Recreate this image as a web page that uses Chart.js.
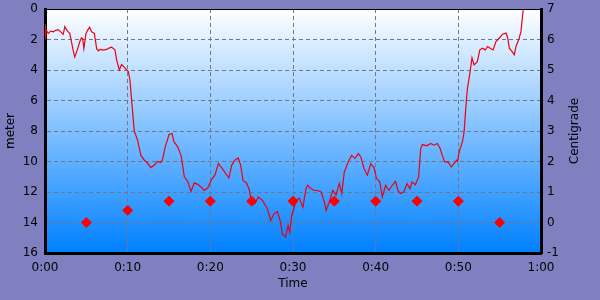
<!DOCTYPE html>
<html>
<head>
<meta charset="utf-8">
<script src="https://cdn.jsdelivr.net/npm/chart.js@4/dist/chart.umd.min.js"></script>
<style>
  html, body { margin: 0; padding: 0; background: #8080c0; }
  canvas { display: block; }
</style>
</head>
<body>
<canvas id="diveChart" width="600" height="300"></canvas>
<script>
// depth profile (minutes, meter)
const depthTime = [0, 0.05, 0.15, 0.4, 0.7, 1.0, 1.3, 1.6, 1.9, 2.2, 2.4, 2.6, 2.8, 3.0, 3.4, 3.6, 3.9, 4.2, 4.4, 4.56, 4.7, 4.96, 5.2, 5.4, 5.65, 5.97,
  6.25, 6.45, 6.65, 7.0, 7.46, 7.8, 8.07, 8.47, 8.67, 8.99, 9.27, 9.56, 9.88, 10.08, 10.28, 10.48, 10.8, 11.2, 11.6, 12.0, 12.4, 12.8, 13.2, 13.6,
  14.0, 14.2, 14.55, 14.8, 15.0, 15.36, 15.6, 16.05, 16.45, 16.65, 16.85, 17.26, 17.66, 18.06, 18.47, 18.87, 19.27, 19.68, 20.24, 20.56, 20.97,
  21.45, 21.86, 22.26, 22.58, 22.98, 23.38, 23.67, 23.95, 24.35, 24.68, 25.0, 25.4, 25.8, 26.3, 26.9, 27.3, 27.7, 28.1, 28.5, 28.7, 29.1, 29.4,
  29.6, 29.84, 30.1, 30.36, 30.76, 31.2, 31.57, 31.78, 32.2, 32.58, 32.98, 33.4, 33.8, 34.0, 34.4, 34.8, 35.2, 35.6, 35.9, 36.2, 36.7, 37.1,
  37.5, 37.9, 38.2, 38.6, 39.0, 39.4, 39.8, 40.1, 40.5, 40.8, 41.2, 41.6, 42.0, 42.4, 42.7, 43.0, 43.4, 43.8, 44.15, 44.4, 44.8, 45.2, 45.45,
  45.65, 46.2, 46.65, 47.05, 47.46, 47.8, 48.06, 48.35, 48.75, 49.15, 49.47, 49.8, 49.9, 50.1, 50.5, 50.7, 50.9, 51.1, 51.4, 51.65, 51.9,
  52.3, 52.6, 52.9, 53.26, 53.55, 53.95, 54.2, 54.55, 54.96, 55.36, 55.77, 55.97, 56.17, 56.5, 56.77, 56.97, 57.3, 57.58, 57.7, 57.86];
const depthValues = [1.0, 2.0, 1.4, 1.6, 1.45, 1.5, 1.4, 1.35, 1.5, 1.66, 1.16, 1.35, 1.5, 1.6, 2.7, 3.14, 2.7, 2.15, 1.9, 1.95, 2.6, 1.6, 1.35, 1.2, 1.5, 1.6,
  2.6, 2.75, 2.65, 2.7, 2.65, 2.55, 2.5, 2.7, 3.36, 4.0, 3.64, 3.8, 4.0, 4.1, 4.67, 6.0, 8.0, 8.6, 9.6, 9.9, 10.1, 10.4, 10.25, 10.0,
  10.07, 9.9, 9.04, 8.6, 8.23, 8.16, 8.7, 9.04, 9.6, 10.25, 11.0, 11.3, 11.96, 11.4, 11.5, 11.67, 11.9, 11.74, 11.1, 10.9, 10.14,
  10.47, 10.8, 11.08, 10.25, 9.9, 9.77, 10.25, 11.24, 11.39, 11.78, 12.66, 12.77, 12.33, 12.55, 13.1, 13.87, 13.43, 13.28, 13.98, 14.75, 14.96, 14.2,
  14.64, 13.54, 13.1, 12.55, 12.4, 13.0, 11.78, 11.56, 11.78, 11.9, 11.9, 12.0, 12.66, 13.2, 12.66, 11.9, 12.2, 11.45, 12.1, 10.7, 10.0, 9.6,
  9.8, 9.48, 9.7, 10.47, 10.9, 10.14, 10.4, 11.1, 11.35, 12.33, 11.56, 11.9, 11.56, 11.3, 11.9, 12.1, 12.0, 11.45, 11.78, 11.35, 11.52, 11.0, 9.15,
  8.89, 8.97, 8.82, 8.93, 8.82, 9.15, 9.6, 10.03, 10.03, 10.36, 10.14, 9.92, 9.99, 9.37, 8.7, 8.05, 6.5, 5.2, 4.2, 3.2, 3.67,
  3.45, 2.68, 2.57, 2.68, 2.46, 2.6, 2.68, 2.13, 1.9, 1.65, 1.58, 1.9, 2.57, 2.79, 3.0, 2.46, 2.02, 1.47, 0.8, 0.0];

// water temperature samples (minutes, centigrade)
const tempTime = [5, 10, 15, 20, 25, 30, 35, 40, 45, 50, 55];
const tempValues = [0, 0.4, 0.7, 0.7, 0.7, 0.7, 0.7, 0.7, 0.7, 0.7, 0];

const timeTicks = [0, 10, 20, 30, 40, 50, 60];

const FONT = 'DejaVu Sans, Verdana, sans-serif';
Chart.defaults.font.family = FONT;
Chart.defaults.font.size = 12;
Chart.defaults.color = '#000';

// plot background gradient + top border + rotated axis titles
const decorations = {
  id: 'decorations',
  beforeDraw(chart) {
    const { ctx, chartArea: a } = chart;
    const g = ctx.createLinearGradient(0, a.top, 0, a.bottom);
    g.addColorStop(0, '#ffffff');
    g.addColorStop(1, '#0080ff');
    ctx.save();
    ctx.fillStyle = g;
    ctx.fillRect(a.left, a.top, a.right - a.left, a.bottom - a.top);
    ctx.restore();
  },
  afterDraw(chart) {
    const { ctx, chartArea: a } = chart;
    ctx.save();
    ctx.strokeStyle = '#000';
    ctx.lineWidth = 1;
    ctx.beginPath();
    ctx.moveTo(a.left, a.top + 0.5);
    ctx.lineTo(a.right, a.top + 0.5);
    ctx.stroke();

    ctx.fillStyle = '#000';
    ctx.font = '12px ' + FONT;
    ctx.textAlign = 'center';
    ctx.textBaseline = 'middle';
    const midY = (a.top + a.bottom) / 2;
    [[11, 'meter'], [575, 'Centigrade']].forEach(([x, txt]) => {
      ctx.save();
      ctx.translate(x, midY);
      ctx.rotate(-Math.PI / 2);
      ctx.fillText(txt, 0, 0);
      ctx.restore();
    });
    ctx.fillText('Time', (a.left + a.right) / 2, 284);
    ctx.restore();
  }
};

const gridStyle = { color: '#6e7888', lineWidth: 1, drawTicks: false };

new Chart(document.getElementById('diveChart'), {
  type: 'scatter',
  data: {
    datasets: [
      {
        label: 'Depth',
        data: depthTime.map((t, i) => ({ x: t, y: depthValues[i] })),
        yAxisID: 'y',
        showLine: true,
        borderColor: '#ee0010',
        borderWidth: 1.2,
        pointRadius: 0,
        tension: 0
      },
      {
        label: 'Temperature',
        data: tempTime.map((t, i) => ({ x: t, y: tempValues[i] })),
        yAxisID: 'y2',
        showLine: false,
        pointStyle: 'rectRot',
        pointRadius: 5,
        backgroundColor: '#ff0000',
        borderColor: '#ff0000',
        borderWidth: 1
      }
    ]
  },
  options: {
    responsive: false,
    animation: false,
    devicePixelRatio: 1,
    layout: { padding: { top: 9, left: 0, right: 0, bottom: 0 } },
    plugins: { legend: { display: false }, tooltip: { enabled: false } },
    scales: {
      x: {
        type: 'linear',
        min: 0,
        max: 60,
        afterFit: s => { s.height = 47; s.paddingTop = 0; },
        afterBuildTicks: s => { s.ticks = timeTicks.map(v => ({ value: v })); },
        ticks: {
          padding: 8,
          maxRotation: 0,
          callback: v => Math.floor(v / 60) + ':' + String(v % 60).padStart(2, '0')
        },
        grid: gridStyle,
        border: { color: '#000', width: 3, dash: [4, 3] }
      },
      y: {
        position: 'left',
        reverse: true,
        min: 0,
        max: 16,
        afterFit: s => { s.width = 45; s.paddingTop = 0; s.paddingBottom = 0; },
        ticks: { stepSize: 2, padding: 7 },
        grid: gridStyle,
        border: { color: '#000', width: 3, dash: [4, 3] }
      },
      y2: {
        position: 'right',
        min: -1,
        max: 7,
        afterFit: s => { s.width = 59; s.paddingTop = 0; s.paddingBottom = 0; },
        ticks: { stepSize: 1, padding: 6 },
        grid: { display: false, drawTicks: false },
        border: { color: '#000', width: 3 }
      }
    }
  },
  plugins: [decorations]
});
</script>
</body>
</html>
